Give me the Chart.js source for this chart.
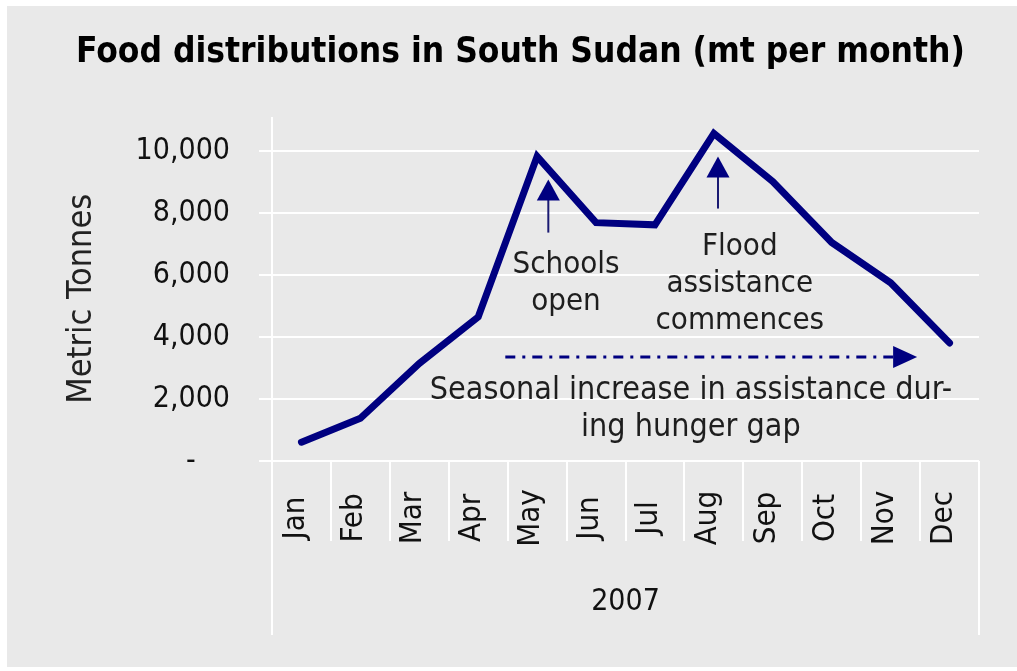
<!DOCTYPE html>
<html>
<head>
<meta charset="utf-8">
<script src="https://cdn.jsdelivr.net/npm/chart.js@4/dist/chart.umd.min.js"></script>
<style>
  html, body { margin: 0; padding: 0; background: #fff; }
</style>
</head>
<body>
<canvas id="c" width="1017" height="671"></canvas>
<script>
// chart values
const months  = ['Jan', 'Feb', 'Mar', 'Apr', 'May', 'Jun', 'Jul', 'Aug', 'Sep', 'Oct', 'Nov', 'Dec'];
const tonnes  = [605, 1380, 3150, 4650, 9830, 7690, 7620, 10570, 9020, 7050, 5750, 3810];
const yTicks  = [0, 2000, 4000, 6000, 8000, 10000];

const titleText = 'Food distributions in South Sudan (mt per month)';
const yTitle    = 'Metric Tonnes  ';
const xTitle    = '2007';

const schoolsNote = ['Schools', 'open'];
const floodNote   = ['Flood', 'assistance', 'commences'];
const seasonNote  = ['Seasonal increase in assistance dur-', 'ing hunger gap'];

// annotation anchors in data units: [category index, tonnes, ...]
const schoolsArrow = [4.19, 7370, 9084];     // x, tail, tip
const floodArrow   = [7.07, 8146, 9829];
const seasonArrow  = [3.46, 10.45, 3356];    // from x, to x, level
const schoolsAt    = [4.49, 6330];
const floodAt      = [7.44, 6900];
const seasonAt     = [6.61, 2275];

const FONT  = "'DejaVu Sans Condensed', 'DejaVu Sans', sans-serif";
const NAVY  = '#000080';
const INK   = '#1e1e1e';
const LINE_GAP = 37;

Chart.defaults.font.family = FONT;

function upArrow(ctx, x, yTail, yTip) {
    ctx.strokeStyle = '#1a1a72';
    ctx.lineWidth   = 2;
    ctx.beginPath();
    ctx.moveTo(x, yTail);
    ctx.lineTo(x, yTip + 18);
    ctx.stroke();
    ctx.fillStyle = NAVY;
    ctx.beginPath();
    ctx.moveTo(x, yTip);
    ctx.lineTo(x - 11.5, yTip + 21);
    ctx.lineTo(x + 11.5, yTip + 21);
    ctx.closePath();
    ctx.fill();
}

function lines(ctx, text, x, y) {
    text.forEach((t, i) => ctx.fillText(t, x, y + i * LINE_GAP));
}

const decor = {
    id: 'decor',
    beforeDraw(chart) {
        const ctx = chart.ctx;
        ctx.save();
        ctx.fillStyle = '#fff';
        ctx.fillRect(0, 0, chart.width, chart.height);
        ctx.fillStyle = '#e9e9e9';
        ctx.fillRect(7, 6, chart.width - 7, 661);
        ctx.restore();
    },
    afterDatasetsDraw(chart) {
        const ctx  = chart.ctx;
        const area = chart.chartArea;
        const xs   = chart.scales.x;
        const ys   = chart.scales.y;

        ctx.save();
        // long frame lines of the category axis
        ctx.strokeStyle = '#fff';
        ctx.lineWidth   = 2;
        ctx.beginPath();
        ctx.moveTo(area.left, area.top);
        ctx.lineTo(area.left, 635);
        ctx.moveTo(area.right, area.bottom);
        ctx.lineTo(area.right, 635);
        ctx.stroke();

        // rotated month labels
        ctx.fillStyle    = '#111';
        ctx.font         = `31px ${FONT}`;
        ctx.textAlign    = 'center';
        ctx.textBaseline = 'middle';
        months.forEach((m, i) => {
            ctx.save();
            ctx.translate(xs.getPixelForValue(i) - 6, 518);
            ctx.rotate(-Math.PI / 2);
            ctx.fillText(m, 0, 0);
            ctx.restore();
        });

        // arrows
        upArrow(ctx, xs.getPixelForValue(schoolsArrow[0]), ys.getPixelForValue(schoolsArrow[1]), ys.getPixelForValue(schoolsArrow[2]));
        upArrow(ctx, xs.getPixelForValue(floodArrow[0]), ys.getPixelForValue(floodArrow[1]), ys.getPixelForValue(floodArrow[2]));

        const sx1 = xs.getPixelForValue(seasonArrow[0]);
        const sx2 = xs.getPixelForValue(seasonArrow[1]);
        const sy  = ys.getPixelForValue(seasonArrow[2]);
        ctx.strokeStyle = NAVY;
        ctx.lineWidth   = 3;
        ctx.setLineDash([10, 7, 3, 7]);
        ctx.beginPath();
        ctx.moveTo(sx1, sy);
        ctx.lineTo(sx2 - 24, sy);
        ctx.stroke();
        ctx.setLineDash([]);
        ctx.fillStyle = NAVY;
        ctx.beginPath();
        ctx.moveTo(sx2, sy);
        ctx.lineTo(sx2 - 24, sy - 11);
        ctx.lineTo(sx2 - 24, sy + 11);
        ctx.closePath();
        ctx.fill();

        // notes
        ctx.fillStyle = INK;
        ctx.font      = `31px ${FONT}`;
        lines(ctx, schoolsNote, xs.getPixelForValue(schoolsAt[0]), ys.getPixelForValue(schoolsAt[1]));
        lines(ctx, floodNote, xs.getPixelForValue(floodAt[0]), ys.getPixelForValue(floodAt[1]));
        ctx.font      = `32px ${FONT}`;
        lines(ctx, seasonNote, xs.getPixelForValue(seasonAt[0]), ys.getPixelForValue(seasonAt[1]));
        ctx.restore();
    }
};

new Chart(document.getElementById('c'), {
    type: 'line',
    data: {
        labels: months,
        datasets: [{
            data: tonnes,
            borderColor: NAVY,
            borderWidth: 7,
            borderCapStyle: 'round',
            pointRadius: 0,
            tension: 0,
            fill: false
        }]
    },
    options: {
        responsive: false,
        animation: false,
        devicePixelRatio: 1,
        layout: {padding: {left: 62, right: 38, top: 0, bottom: 51}},
        plugins: {
            legend: {display: false},
            tooltip: {enabled: false},
            title: {
                display: true,
                text: titleText,
                color: '#000',
                font: {size: 35, weight: 'bold'},
                padding: {top: 32, bottom: 43}
            }
        },
        scales: {
            x: {
                offset: true,
                ticks: {display: false},
                grid: {offset: true, drawOnChartArea: false, drawTicks: true, tickLength: 80, color: '#fff', lineWidth: 2},
                border: {display: false},
                title: {display: true, text: xTitle, color: '#111', font: {size: 30}, padding: 0},
                afterFit(s) { s.height = 159; }
            },
            y: {
                min: 0,
                max: 11100,
                afterBuildTicks(s) { s.ticks = yTicks.map(v => ({value: v})); },
                ticks: {
                    padding: 29,
                    color: '#111',
                    font: {size: 30},
                    callback: v => v === 0 ? '-    ' : v.toLocaleString('en-US')
                },
                grid: {color: '#fff', lineWidth: 2, tickLength: 13, tickColor: '#fff'},
                border: {display: false},
                title: {display: true, text: yTitle, color: '#222', font: {size: 34}, padding: 0},
                afterFit(s) { s.width = 210; }
            }
        }
    },
    plugins: [decor]
});
</script>
</body>
</html>
